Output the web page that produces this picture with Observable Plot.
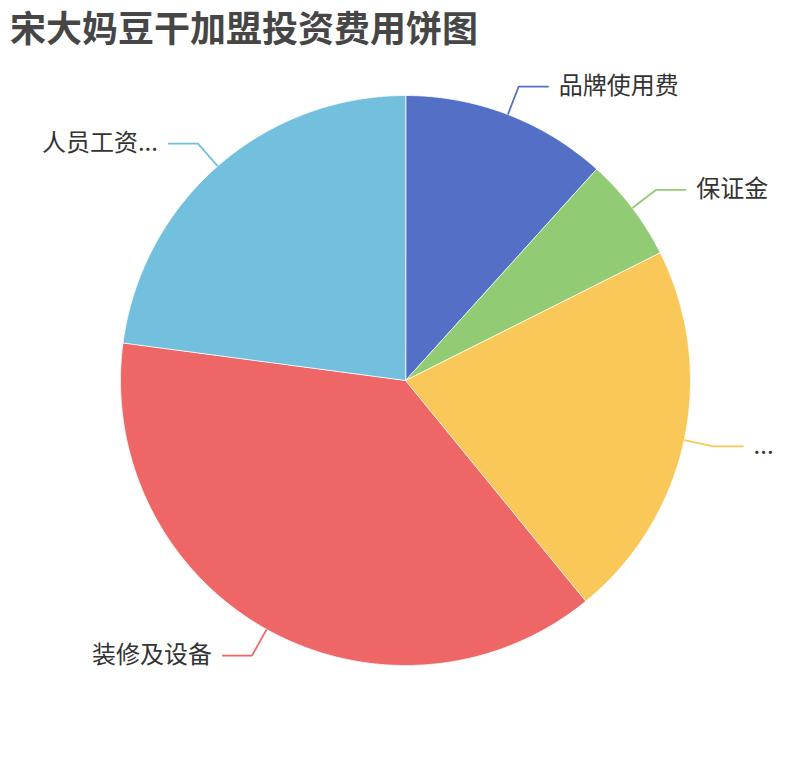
<!DOCTYPE html>
<html>
<head>
<meta charset="utf-8">
<script src="https://cdn.jsdelivr.net/npm/d3@7"></script>
<script src="https://cdn.jsdelivr.net/npm/@observablehq/plot@0.6"></script>
<style>
  html, body { margin: 0; padding: 0; background: #fff; }
  #wrap { position: relative; width: 810px; height: 760px; }
  #title { position: absolute; left: 10px; top: 0px; font: bold 36px/52px "Noto Sans CJK SC", sans-serif; color: #464646; white-space: nowrap; }
  #chart svg { display: block; }
</style>
</head>
<body>
<div id="wrap">
  <div id="chart"></div>
  <div id="title">宋大妈豆干加盟投资费用饼图</div>
</div>
<script>
// Data
const names = ["品牌使用费", "保证金", "...", "装修及设备", "人员工资..."];
const values = [11.7, 5.9, 21.5, 38.0, 22.9];
const colors = ["#5470c6", "#91cc75", "#fac858", "#ee6666", "#73c0de"];

// Layout (pixels)
const W = 810, H = 760, R = 285, CX = 405, CY = 380;
const u = 1 / R; // one pixel in data units

const arcs = d3.pie().sort(null).value(d => d)(values);

// Slice polygons
const slices = arcs.map((a, i) => {
  const pts = [{x: 0, y: 0}];
  const step = Math.PI / 720;
  for (let t = a.startAngle; t < a.endAngle; t += step) pts.push({x: Math.sin(t), y: Math.cos(t)});
  pts.push({x: Math.sin(a.endAngle), y: Math.cos(a.endAngle)});
  return {name: names[i], color: colors[i], pts};
});

// Label lines and labels
const len1 = 30 * u, len2 = 30 * u, gap = 10 * u;
const labels = arcs.map((a, i) => {
  const m = (a.startAngle + a.endAngle) / 2;
  const sx = Math.sin(m), sy = Math.cos(m);
  const ex = sx * (1 + len1), ey = sy * (1 + len1);
  const right = sx >= 0;
  const hx = ex + (right ? len2 : -len2);
  return {
    name: names[i], color: colors[i], right,
    line: [{x: sx, y: sy}, {x: ex, y: ey}, {x: hx, y: ey}],
    tx: hx + (right ? gap : -gap), ty: ey
  };
});

const marks = [];
for (const s of slices) {
  marks.push(Plot.line(s.pts, {x: "x", y: "y", fill: s.color, stroke: "#fff", strokeWidth: 0.8, curve: "linear-closed", strokeLinejoin: "round"}));
}
for (const l of labels) {
  marks.push(Plot.line(l.line, {x: "x", y: "y", stroke: l.color, strokeWidth: 1.8, strokeLinecap: "butt", strokeLinejoin: "miter"}));
  marks.push(Plot.text([l], {x: "tx", y: "ty", text: "name", textAnchor: l.right ? "start" : "end", fontSize: 24, fill: "#333", fontFamily: "'Noto Sans CJK SC', sans-serif"}));
}

const chart = Plot.plot({
  width: W, height: H, margin: 0,
  x: {axis: null, domain: [-CX / R, (W - CX) / R]},
  y: {axis: null, domain: [-(H - CY) / R, CY / R]},
  style: {background: "#fff"},
  marks
});
document.getElementById("chart").appendChild(chart);
</script>
</body>
</html>
